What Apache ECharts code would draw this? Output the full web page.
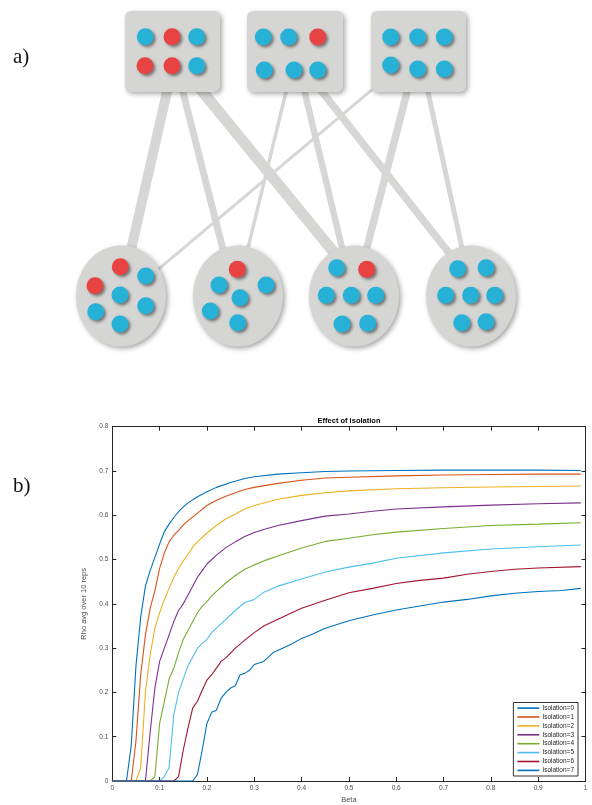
<!DOCTYPE html>
<html>
<head>
<meta charset="utf-8">
<script src="https://cdn.jsdelivr.net/npm/echarts@6/dist/echarts.min.js"></script>
<style>
html,body{margin:0;padding:0;background:#fff;}
#chart{width:592px;height:805px;}
</style>
</head>
<body>
<div id="chart"></div>
<script>
// ---------- Panel b) data: Beta vs Rho avg over 10 reps ----------
const seriesNames = ['Isolation=0','Isolation=1','Isolation=2','Isolation=3','Isolation=4','Isolation=5','Isolation=6','Isolation=7'];
const iso0 = [[0,0],[0.03,0],[0.04,0.08],[0.05,0.26],[0.06,0.37],[0.07,0.44],[0.08,0.475],[0.09,0.505],[0.10,0.535],[0.11,0.563],[0.12,0.58],[0.13,0.595],[0.14,0.608],[0.15,0.619],[0.16,0.628],[0.18,0.642],[0.20,0.653],[0.22,0.663],[0.25,0.674],[0.28,0.683],[0.30,0.687],[0.35,0.693],[0.40,0.696],[0.45,0.699],[0.50,0.700],[0.60,0.701],[0.70,0.702],[0.80,0.702],[0.90,0.702],[0.99,0.701]];
const iso1 = [[0,0],[0.04,0],[0.05,0.09],[0.06,0.24],[0.07,0.33],[0.08,0.39],[0.09,0.43],[0.10,0.48],[0.11,0.515],[0.12,0.54],[0.13,0.555],[0.14,0.566],[0.15,0.578],[0.16,0.588],[0.17,0.596],[0.18,0.605],[0.20,0.622],[0.22,0.634],[0.24,0.643],[0.26,0.651],[0.28,0.658],[0.30,0.663],[0.35,0.672],[0.40,0.679],[0.45,0.684],[0.50,0.686],[0.60,0.689],[0.70,0.691],[0.80,0.692],[0.90,0.693],[0.99,0.693]];
const iso2 = [[0,0],[0.05,0],[0.06,0.03],[0.07,0.2],[0.08,0.285],[0.09,0.345],[0.10,0.38],[0.11,0.41],[0.12,0.435],[0.13,0.46],[0.14,0.48],[0.15,0.497],[0.16,0.512],[0.17,0.528],[0.18,0.54],[0.20,0.56],[0.22,0.577],[0.24,0.592],[0.26,0.603],[0.28,0.614],[0.30,0.622],[0.35,0.636],[0.40,0.645],[0.45,0.651],[0.50,0.655],[0.60,0.66],[0.70,0.662],[0.80,0.664],[0.90,0.665],[0.99,0.666]];
const iso3 = [[0,0],[0.07,0],[0.08,0.11],[0.09,0.21],[0.10,0.27],[0.11,0.30],[0.12,0.33],[0.13,0.36],[0.14,0.385],[0.15,0.40],[0.16,0.42],[0.17,0.44],[0.18,0.46],[0.19,0.475],[0.20,0.49],[0.22,0.51],[0.24,0.527],[0.26,0.54],[0.28,0.552],[0.30,0.561],[0.32,0.568],[0.35,0.577],[0.40,0.588],[0.45,0.598],[0.50,0.603],[0.55,0.609],[0.60,0.614],[0.70,0.619],[0.80,0.623],[0.90,0.626],[0.99,0.628]];
const iso4 = [[0,0],[0.08,0],[0.09,0.01],[0.10,0.13],[0.11,0.18],[0.12,0.23],[0.13,0.255],[0.14,0.29],[0.15,0.32],[0.16,0.34],[0.17,0.36],[0.18,0.38],[0.19,0.395],[0.20,0.405],[0.21,0.418],[0.22,0.428],[0.24,0.447],[0.26,0.464],[0.28,0.478],[0.30,0.488],[0.32,0.497],[0.35,0.508],[0.40,0.526],[0.45,0.541],[0.50,0.548],[0.55,0.556],[0.60,0.562],[0.70,0.57],[0.80,0.577],[0.90,0.58],[0.99,0.583]];
const iso5 = [[0,0],[0.10,0],[0.11,0.01],[0.12,0.03],[0.13,0.15],[0.14,0.2],[0.15,0.23],[0.16,0.26],[0.17,0.28],[0.18,0.30],[0.19,0.31],[0.20,0.32],[0.21,0.335],[0.22,0.345],[0.24,0.365],[0.26,0.385],[0.28,0.403],[0.30,0.41],[0.32,0.426],[0.35,0.44],[0.40,0.456],[0.45,0.472],[0.50,0.483],[0.55,0.492],[0.60,0.503],[0.70,0.515],[0.80,0.524],[0.90,0.529],[0.99,0.533]];
const iso6 = [[0,0],[0.13,0],[0.14,0.01],[0.15,0.07],[0.16,0.12],[0.17,0.165],[0.18,0.18],[0.19,0.205],[0.20,0.228],[0.21,0.24],[0.22,0.255],[0.23,0.27],[0.24,0.278],[0.26,0.30],[0.28,0.318],[0.30,0.335],[0.32,0.35],[0.35,0.365],[0.40,0.39],[0.45,0.408],[0.50,0.425],[0.55,0.435],[0.60,0.446],[0.65,0.453],[0.70,0.458],[0.75,0.467],[0.80,0.473],[0.85,0.478],[0.90,0.481],[0.99,0.484]];
const iso7 = [[0,0],[0.17,0],[0.18,0.015],[0.19,0.07],[0.20,0.13],[0.21,0.155],[0.22,0.16],[0.23,0.187],[0.24,0.2],[0.25,0.21],[0.26,0.215],[0.27,0.24],[0.28,0.243],[0.29,0.25],[0.30,0.263],[0.32,0.27],[0.34,0.29],[0.36,0.30],[0.38,0.31],[0.40,0.322],[0.42,0.33],[0.45,0.345],[0.50,0.362],[0.55,0.375],[0.60,0.386],[0.65,0.395],[0.70,0.404],[0.75,0.41],[0.80,0.418],[0.85,0.424],[0.90,0.428],[0.95,0.43],[0.99,0.435]];
const allSeries = [iso0, iso1, iso2, iso3, iso4, iso5, iso6, iso7];
const lineColors = ['#0072BD','#D95319','#EDB120','#7E2F8E','#77AC30','#4DBEEE','#A2142F','#0072BD'];

// ---------- Panel a) diagram layout (in diagram units) ----------
const topGroups = [[125,11,220,92],[247,11,343,92],[371,11,466,92]];
const bottomGroups = [[121,296],[238,296],[354,296],[471,296]];
const edgeEnds = [
  [[168,87.5],[130.4,252.5]],
  [[181.8,87.5],[224.2,254.1]],
  [[200.2,88.7],[337.1,256.3]],
  [[287.1,87.5],[246.9,252.5]],
  [[303.6,87.5],[343.1,252.5]],
  [[319.6,88.6],[450.4,254.7]],
  [[376.3,86.1],[153.7,273.2]],
  [[408.2,87.5],[365.2,254.1]],
  [[427,87.4],[463,252.6]]
];
const edgeWeights = [10, 7, 11, 3.5, 6.5, 7.5, 3, 7.5, 5];
const redDots = [[172,36.7],[145,65.7],[172,65.7],[317.7,37],[120.3,266.7],[95,285.7],[237.3,269.3],[366.7,269.3]];
const blueDots = [[145.3,36.7],[196.7,36.7],[196.7,65.7],
  [263.3,37],[288.7,37],[264.3,70],[294,70],[317.7,70],
  [390.7,37],[417.7,37],[444.3,37],[390.7,65],[417.7,69],[444.3,69],
  [145.7,276],[120,295],[95.7,311.7],[145.7,305.7],[120,324],
  [219,285],[266,285],[240,297.7],[210.3,311],[237.7,322.7],
  [336.7,267.7],[326.3,295.3],[351.3,295.3],[375.7,295.3],[342,324],[367.7,323.3],
  [457.7,268.7],[486,267.7],[445.7,295.3],[470.7,295.3],[494.7,295.3],[461.7,322.7],[486,321.7]];

const chart = echarts.init(document.getElementById('chart'), null, {renderer:'canvas'});
const FONT = 'Liberation Sans, Arial, Helvetica, sans-serif';
const grayFill = '#d5d6d4';
const axisCol = '#262626';
const labCol = '#4d4d4d';

const lineSeries = allSeries.map((d, i) => ({
  name: seriesNames[i], type: 'line', xAxisIndex: 0, yAxisIndex: 0,
  data: d, showSymbol: false, symbol: 'none', smooth: false,
  lineStyle: {width: 1.1, color: lineColors[i]}, itemStyle: {color: lineColors[i]},
  z: 3
}));

const option = {
  animation: false,
  backgroundColor: '#fff',
  title: {
    text: 'Effect of isolation', left: 349, top: 417, textAlign: 'center', padding: 0,
    textStyle: {fontSize: 7.5, fontWeight: 'bold', color: '#000', fontFamily: FONT}
  },
  legend: {
    data: seriesNames, orient: 'vertical', right: 14, bottom: 29,
    backgroundColor: '#fff', borderColor: '#333', borderWidth: 1,
    padding: [1.6, 4, 1.6, 4], itemGap: 0.9, itemWidth: 22, itemHeight: 1.6, icon: 'rect',
    textStyle: {fontSize: 6.5, lineHeight: 8, color: axisCol, fontFamily: FONT, padding: [0,0,0,-2]}
  },
  graphic: [
    {type: 'text', left: 13, top: 47, style: {text: 'a)', font: '21px "Liberation Serif", "Times New Roman", serif', fill: '#111'}},
    {type: 'text', left: 13, top: 476, style: {text: 'b)', font: '21px "Liberation Serif", "Times New Roman", serif', fill: '#111'}}
  ],
  grid: [
    {left: 112.3, right: 6.5, top: 426.7, bottom: 21.7, containLabel: false},
    {left: 0, top: 0, width: 592, height: 370}
  ],
  xAxis: [
    {type: 'value', gridIndex: 0, min: 0, max: 1, interval: 0.1, position: 'bottom',
     name: 'Beta', nameLocation: 'middle', nameGap: 15,
     nameTextStyle: {fontSize: 7.5, color: labCol, fontFamily: FONT},
     axisLine: {show: true, onZero: false, lineStyle: {color: axisCol, width: 1}},
     axisTick: {show: true, inside: true, length: 4, lineStyle: {color: axisCol}},
     axisLabel: {fontSize: 6.5, color: labCol, margin: 4, fontFamily: FONT},
     splitLine: {show: false}},
    {type: 'value', gridIndex: 0, min: 0, max: 1, interval: 0.1, position: 'top',
     axisLine: {show: true, onZero: false, lineStyle: {color: axisCol, width: 1}},
     axisTick: {show: true, inside: true, length: 4, lineStyle: {color: axisCol}},
     axisLabel: {show: false}, splitLine: {show: false}},
    {type: 'value', gridIndex: 1, min: 0, max: 592, show: false}
  ],
  yAxis: [
    {type: 'value', gridIndex: 0, min: 0, max: 0.8, interval: 0.1, position: 'left',
     name: 'Rho avg over 10 reps', nameLocation: 'middle', nameGap: 16, nameRotate: 90,
     nameTextStyle: {fontSize: 7.5, color: labCol, fontFamily: FONT},
     axisLine: {show: true, onZero: false, lineStyle: {color: axisCol, width: 1}},
     axisTick: {show: true, inside: true, length: 4, lineStyle: {color: axisCol}},
     axisLabel: {fontSize: 6.5, color: labCol, margin: 4, fontFamily: FONT},
     splitLine: {show: false}},
    {type: 'value', gridIndex: 0, min: 0, max: 0.8, interval: 0.1, position: 'right',
     axisLine: {show: true, onZero: false, lineStyle: {color: axisCol, width: 1}},
     axisTick: {show: true, inside: true, length: 4, lineStyle: {color: axisCol}},
     axisLabel: {show: false}, splitLine: {show: false}},
    {type: 'value', gridIndex: 1, min: 0, max: 370, inverse: true, show: false}
  ],
  series: [
    ...lineSeries,
    {
      type: 'lines', coordinateSystem: 'cartesian2d', xAxisIndex: 2, yAxisIndex: 2,
      data: edgeEnds.map((c, i) => ({coords: c, lineStyle: {width: edgeWeights[i]}})),
      lineStyle: {color: '#d6d7d5', opacity: 1, cap: 'butt'}, z: 1, silent: true
    },
    {
      type: 'custom', xAxisIndex: 2, yAxisIndex: 2, data: topGroups, z: 2, silent: true,
      encode: {x: [0, 2], y: [1, 3]},
      renderItem: function (params, api) {
        const p0 = api.coord([api.value(0), api.value(1)]);
        const p1 = api.coord([api.value(2), api.value(3)]);
        return {
          type: 'rect',
          shape: {x: p0[0], y: p0[1], width: p1[0] - p0[0], height: p1[1] - p0[1], r: 6},
          style: {fill: grayFill, shadowBlur: 5, shadowOffsetX: 2, shadowOffsetY: 2, shadowColor: 'rgba(0,0,0,0.35)'}
        };
      }
    },
    {
      type: 'scatter', xAxisIndex: 2, yAxisIndex: 2, data: bottomGroups, z: 2, silent: true,
      symbol: 'circle', symbolSize: [90, 101],
      itemStyle: {color: grayFill, shadowBlur: 5, shadowOffsetX: 2, shadowOffsetY: 2, shadowColor: 'rgba(0,0,0,0.35)', opacity: 1}
    },
    {
      type: 'scatter', xAxisIndex: 2, yAxisIndex: 2, data: blueDots, z: 4, silent: true,
      symbol: 'circle', symbolSize: 17,
      itemStyle: {color: '#27b1d6', shadowBlur: 3, shadowOffsetX: 2, shadowOffsetY: 2, shadowColor: 'rgba(0,0,0,0.45)', opacity: 1}
    },
    {
      type: 'scatter', xAxisIndex: 2, yAxisIndex: 2, data: redDots, z: 4, silent: true,
      symbol: 'circle', symbolSize: 17,
      itemStyle: {color: '#e84343', shadowBlur: 3, shadowOffsetX: 2, shadowOffsetY: 2, shadowColor: 'rgba(0,0,0,0.45)', opacity: 1}
    }
  ]
};
chart.setOption(option);
</script>
</body>
</html>
